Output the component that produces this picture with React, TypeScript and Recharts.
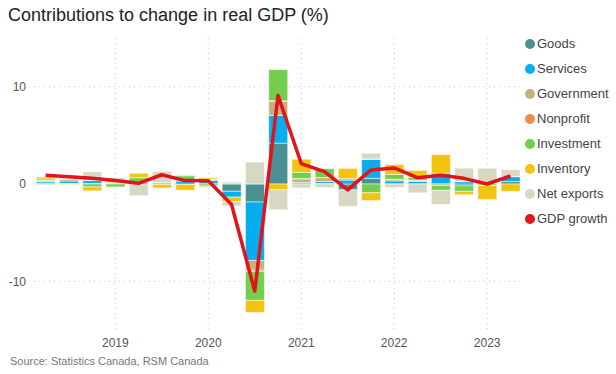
import { ComposedChart, Bar, Line, XAxis, YAxis, CartesianGrid } from "recharts";

// quarterly contributions (percentage points), 2018 Q1 - 2023 Q1
const QUARTERS = [
  "2018 Q1", "2018 Q2", "2018 Q3", "2018 Q4",
  "2019 Q1", "2019 Q2", "2019 Q3", "2019 Q4",
  "2020 Q1", "2020 Q2", "2020 Q3", "2020 Q4",
  "2021 Q1", "2021 Q2", "2021 Q3", "2021 Q4",
  "2022 Q1", "2022 Q2", "2022 Q3", "2022 Q4",
  "2023 Q1",
];
const GOODS = [0.1, 0.05, 0.05, 0.05, 0, -0.05, -0.05, 0.02, -0.75, -1.85, 4.2, 0.02, 0.05, -0.6, 0.58, 0.02, 0.02, 0.02, -0.2, 0.05, 0.25];
const SERVICES = [0.15, 0.25, 0.3, 0, 0.15, 0.1, 0.3, 0.35, -0.6, -6.0, 2.85, 0.15, 0.2, 0.4, 1.95, 0.3, 0.25, 1.1, 0.24, 0.05, 0.5];
const GOVERNMENT = [0.1, 0.2, 0, 0.1, 0.05, 0.05, 0.1, 0.1, 0.05, -1.0, 1.45, 0.35, 0.4, 0.15, 0.05, 0.15, 0.1, -0.15, 0.02, 0.02, 0.02];
const NONPROFIT = [0.02, 0.02, 0, 0, 0, 0, 0, 0.02, 0, -0.15, 0.05, 0.05, 0.02, 0, 0, 0.02, 0.02, 0, 0, 0, 0];
const INVESTMENT = [0.15, 0.05, -0.3, -0.3, 0.45, 0, 0.45, -0.2, 0.1, -2.95, 3.2, 0.62, 0.9, 0, -0.9, 0.5, 0.3, -0.5, -0.55, -0.15, 0];
const INVENTORY = [0.2, -0.05, -0.4, 0.2, 0.45, -0.35, -0.6, 0.15, -0.45, -1.25, -0.6, 1.35, 0, 1.05, -0.8, 1.0, 0.7, 1.9, -0.35, -1.45, -0.75];
const NET_EXPORTS = [-0.1, 0.1, 0.9, 0.3, -1.2, 1.15, 0.1, -0.15, -0.45, 2.25, -2.05, -0.4, -0.35, -1.7, 0.58, -0.35, -0.9, -1.45, 1.37, 1.5, 0.7];
const GDP_GROWTH = [0.9, 0.75, 0.6, 0.35, 0.07, 0.95, 0.35, 0.33, -2.1, -11.0, 9.1, 2.1, 1.27, -0.6, 1.45, 1.65, 0.65, 0.9, 0.58, 0.0, 0.82];

const YEAR_TICKS = ["2018 Q4", "2019 Q4", "2020 Q4", "2021 Q4", "2022 Q4"];
const YEAR_LABELS = ["2019", "2020", "2021", "2022", "2023"];
const Y_TICKS = [-10, 0, 10];

const SERIES = [
  { key: "goods", name: "Goods", color: "#4b9093" },
  { key: "services", name: "Services", color: "#06aef0" },
  { key: "government", name: "Government", color: "#c8b07e" },
  { key: "nonprofit", name: "Nonprofit", color: "#f28c4c" },
  { key: "investment", name: "Investment", color: "#73cf4b" },
  { key: "inventory", name: "Inventory", color: "#f2c40f" },
  { key: "netExports", name: "Net exports", color: "#d8d8c2" },
];
const GDP_COLOR = "#e1131c";
const FONT = '"Liberation Sans", Arial, sans-serif';

const data = QUARTERS.map((q, i) => ({
  quarter: q,
  goods: GOODS[i],
  services: SERVICES[i],
  government: GOVERNMENT[i],
  nonprofit: NONPROFIT[i],
  investment: INVESTMENT[i],
  inventory: INVENTORY[i],
  netExports: NET_EXPORTS[i],
  gdp: GDP_GROWTH[i],
}));

function yearLabel(q: string) {
  const i = YEAR_TICKS.indexOf(q);
  return i >= 0 ? YEAR_LABELS[i] : "";
}

export default function App() {
  const legendItems = [...SERIES, { key: "gdp", name: "GDP growth", color: GDP_COLOR }];
  return (
    <div
      style={{
        position: "absolute",
        left: 0,
        top: 0,
        width: 616,
        height: 374,
        background: "#fff",
        fontFamily: FONT,
      }}
    >
      <div
        style={{
          position: "absolute",
          left: 8,
          top: 6,
          fontSize: 18,
          lineHeight: "18px",
          color: "#222",
          whiteSpace: "nowrap",
        }}
      >
        Contributions to change in real GDP (%)
      </div>

      <ComposedChart
        width={616}
        height={374}
        data={data}
        stackOffset="sign"
        barCategoryGap="10%"
        margin={{ top: 38, right: 94, bottom: 24, left: 4 }}
      >
        <CartesianGrid
          stroke="#c8c8c8"
          strokeDasharray="1 4"
          horizontalValues={Y_TICKS}
          verticalValues={YEAR_TICKS}
        />
        <XAxis
          dataKey="quarter"
          ticks={YEAR_TICKS}
          tickFormatter={yearLabel}
          axisLine={false}
          tickLine={false}
          height={20}
          tick={{ fontSize: 12, fill: "#555", fontFamily: FONT }}
        />
        <YAxis
          domain={[-15, 15]}
          ticks={Y_TICKS}
          axisLine={false}
          tickLine={false}
          width={30}
          tick={{ fontSize: 12, fill: "#555", fontFamily: FONT }}
        />
        {SERIES.map((s) => (
          <Bar
            key={s.key}
            dataKey={s.key}
            name={s.name}
            stackId="a"
            fill={s.color}
            stroke="#ffffff"
            strokeOpacity={0.5}
            strokeWidth={1}
            isAnimationActive={false}
          />
        ))}
        <Line
          type="linear"
          dataKey="gdp"
          name="GDP growth"
          stroke={GDP_COLOR}
          strokeWidth={3.5}
          strokeLinejoin="round"
          dot={false}
          activeDot={false}
          isAnimationActive={false}
        />
      </ComposedChart>

      {/* legend */}
      <div style={{ position: "absolute", left: 525, top: 31 }}>
        {legendItems.map((s) => (
          <div
            key={s.key}
            style={{ display: "flex", alignItems: "center", height: 25, fontSize: 13, color: "#444" }}
          >
            <span
              style={{
                width: 10,
                height: 10,
                borderRadius: "50%",
                background: s.color,
                marginRight: 2,
                display: "inline-block",
              }}
            />
            <span>{s.name}</span>
          </div>
        ))}
      </div>

      <div
        style={{
          position: "absolute",
          left: 10,
          top: 355,
          fontSize: 11,
          lineHeight: "12px",
          color: "#777",
          whiteSpace: "nowrap",
        }}
      >
        Source: Statistics Canada, RSM Canada
      </div>
    </div>
  );
}
